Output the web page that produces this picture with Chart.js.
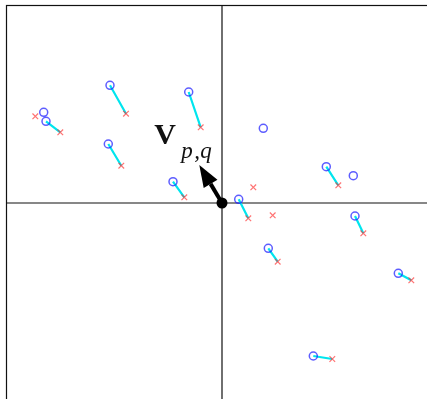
<!DOCTYPE html>
<html>
<head>
<meta charset="utf-8">
<script src="https://cdn.jsdelivr.net/npm/chart.js@4.4.1/dist/chart.umd.min.js"></script>
<style>
  html, body { margin: 0; padding: 0; background: #fff; overflow: hidden; }
  canvas { display: block; }
</style>
</head>
<body>
<canvas id="c" width="427" height="399" style="width:427px;height:399px"></canvas>
<script>
// ─── Data: first 11 circles are joined to the first 11 crosses ───
const circleX = [-1.76, -1.12, -0.333, -1.137, -0.49, 1.043, 0.167, 1.33, 0.463, 1.763, 0.913, -1.783, 0.413, 1.313];
const circleY = [0.817, 1.177, 1.11, 0.59, 0.213, 0.363, 0.037, -0.13, -0.453, -0.703, -1.53, 0.907, 0.747, 0.273];
const crossX = [-1.617, -0.96, -0.213, -1.007, -0.377, 1.163, 0.263, 1.413, 0.557, 1.893, 1.103, -1.867, 0.313, 0.507];
const crossY = [0.707, 0.893, 0.757, 0.373, 0.057, 0.177, -0.153, -0.303, -0.587, -0.773, -1.56, 0.867, 0.157, -0.123];
const pairCount = 11;
const arrowTip = [-0.227, 0.38];
const xRange = [-2.15, 2.05];
const yRange = [-1.96, 1.97];

const circles = circleX.map((x, i) => ({ x, y: circleY[i] }));
const crosses = crossX.map((x, i) => ({ x, y: crossY[i] }));
const links = [];
for (let i = 0; i < pairCount; i++) {
  links.push(circles[i], crosses[i], { x: circles[i].x, y: null });
}

// frame, axes, arrow and label
const decor = {
  id: 'decor',
  beforeDatasetsDraw(chart) {
    const { ctx, chartArea: a, scales: { x, y } } = chart;
    ctx.save();
    ctx.strokeStyle = '#111';
    ctx.lineWidth = 1.2;
    ctx.strokeRect(a.left - 0.5, a.top - 0.5, a.right - a.left + 10, a.bottom - a.top + 10);
    const ox = x.getPixelForValue(0), oy = y.getPixelForValue(0);
    ctx.beginPath();
    ctx.moveTo(ox, a.top); ctx.lineTo(ox, a.bottom);
    ctx.moveTo(a.left, oy); ctx.lineTo(a.right, oy);
    ctx.stroke();
    ctx.restore();
  },
  afterDatasetsDraw(chart) {
    const { ctx, scales: { x, y } } = chart;
    const ox = x.getPixelForValue(0), oy = y.getPixelForValue(0);
    const tx = x.getPixelForValue(arrowTip[0]), ty = y.getPixelForValue(arrowTip[1]);
    const ang = Math.atan2(ty - oy, tx - ox);
    const headLen = 22, headW = 8;
    const bx = tx - headLen * Math.cos(ang), by = ty - headLen * Math.sin(ang);
    ctx.save();
    ctx.fillStyle = '#000';
    ctx.strokeStyle = '#000';
    ctx.lineWidth = 4;
    ctx.beginPath(); ctx.moveTo(ox, oy); ctx.lineTo(bx, by); ctx.stroke();
    ctx.beginPath();
    ctx.moveTo(tx, ty);
    ctx.lineTo(bx + headW * Math.sin(ang), by - headW * Math.cos(ang));
    ctx.lineTo(bx - headW * Math.sin(ang), by + headW * Math.cos(ang));
    ctx.closePath(); ctx.fill();
    ctx.beginPath(); ctx.arc(ox, oy, 5.5, 0, Math.PI * 2); ctx.fill();
    // label V_{p,q}
    ctx.fillStyle = '#111';
    ctx.textBaseline = 'alphabetic';
    ctx.font = 'bold 30px "Liberation Serif"';
    ctx.fillText('V', tx - 45, ty - 21);
    ctx.font = 'italic 23px "Liberation Serif"';
    ctx.fillText('p', tx - 18, ty - 7);
    ctx.fillText(',', tx - 5, ty - 7);
    ctx.fillText('q', tx + 1, ty - 7);
    ctx.restore();
  }
};

new Chart(document.getElementById('c'), {
  type: 'scatter',
  data: {
    datasets: [
      { type: 'line', data: links, borderColor: '#00e5ee', borderWidth: 2.2, pointRadius: 0, spanGaps: false, fill: false, order: 3 },
      { data: crosses, pointStyle: 'crossRot', pointRadius: 4, borderColor: 'rgba(255,40,40,0.65)', borderWidth: 1.2, order: 2 },
      { data: circles, pointStyle: 'circle', pointRadius: 4, borderColor: 'rgba(30,30,255,0.72)', backgroundColor: 'rgba(0,0,0,0)', borderWidth: 1.5, order: 1 },
    ]
  },
  options: {
    responsive: false,
    animation: false,
    devicePixelRatio: 1,
    layout: { autoPadding: false, padding: { left: 7, top: 6, right: 0, bottom: 0 } },
    plugins: { legend: { display: false }, tooltip: { enabled: false } },
    scales: {
      x: { type: 'linear', min: xRange[0], max: xRange[1], display: false },
      y: { type: 'linear', min: yRange[0], max: yRange[1], display: false },
    },
  },
  plugins: [decor],
});
</script>
</body>
</html>
